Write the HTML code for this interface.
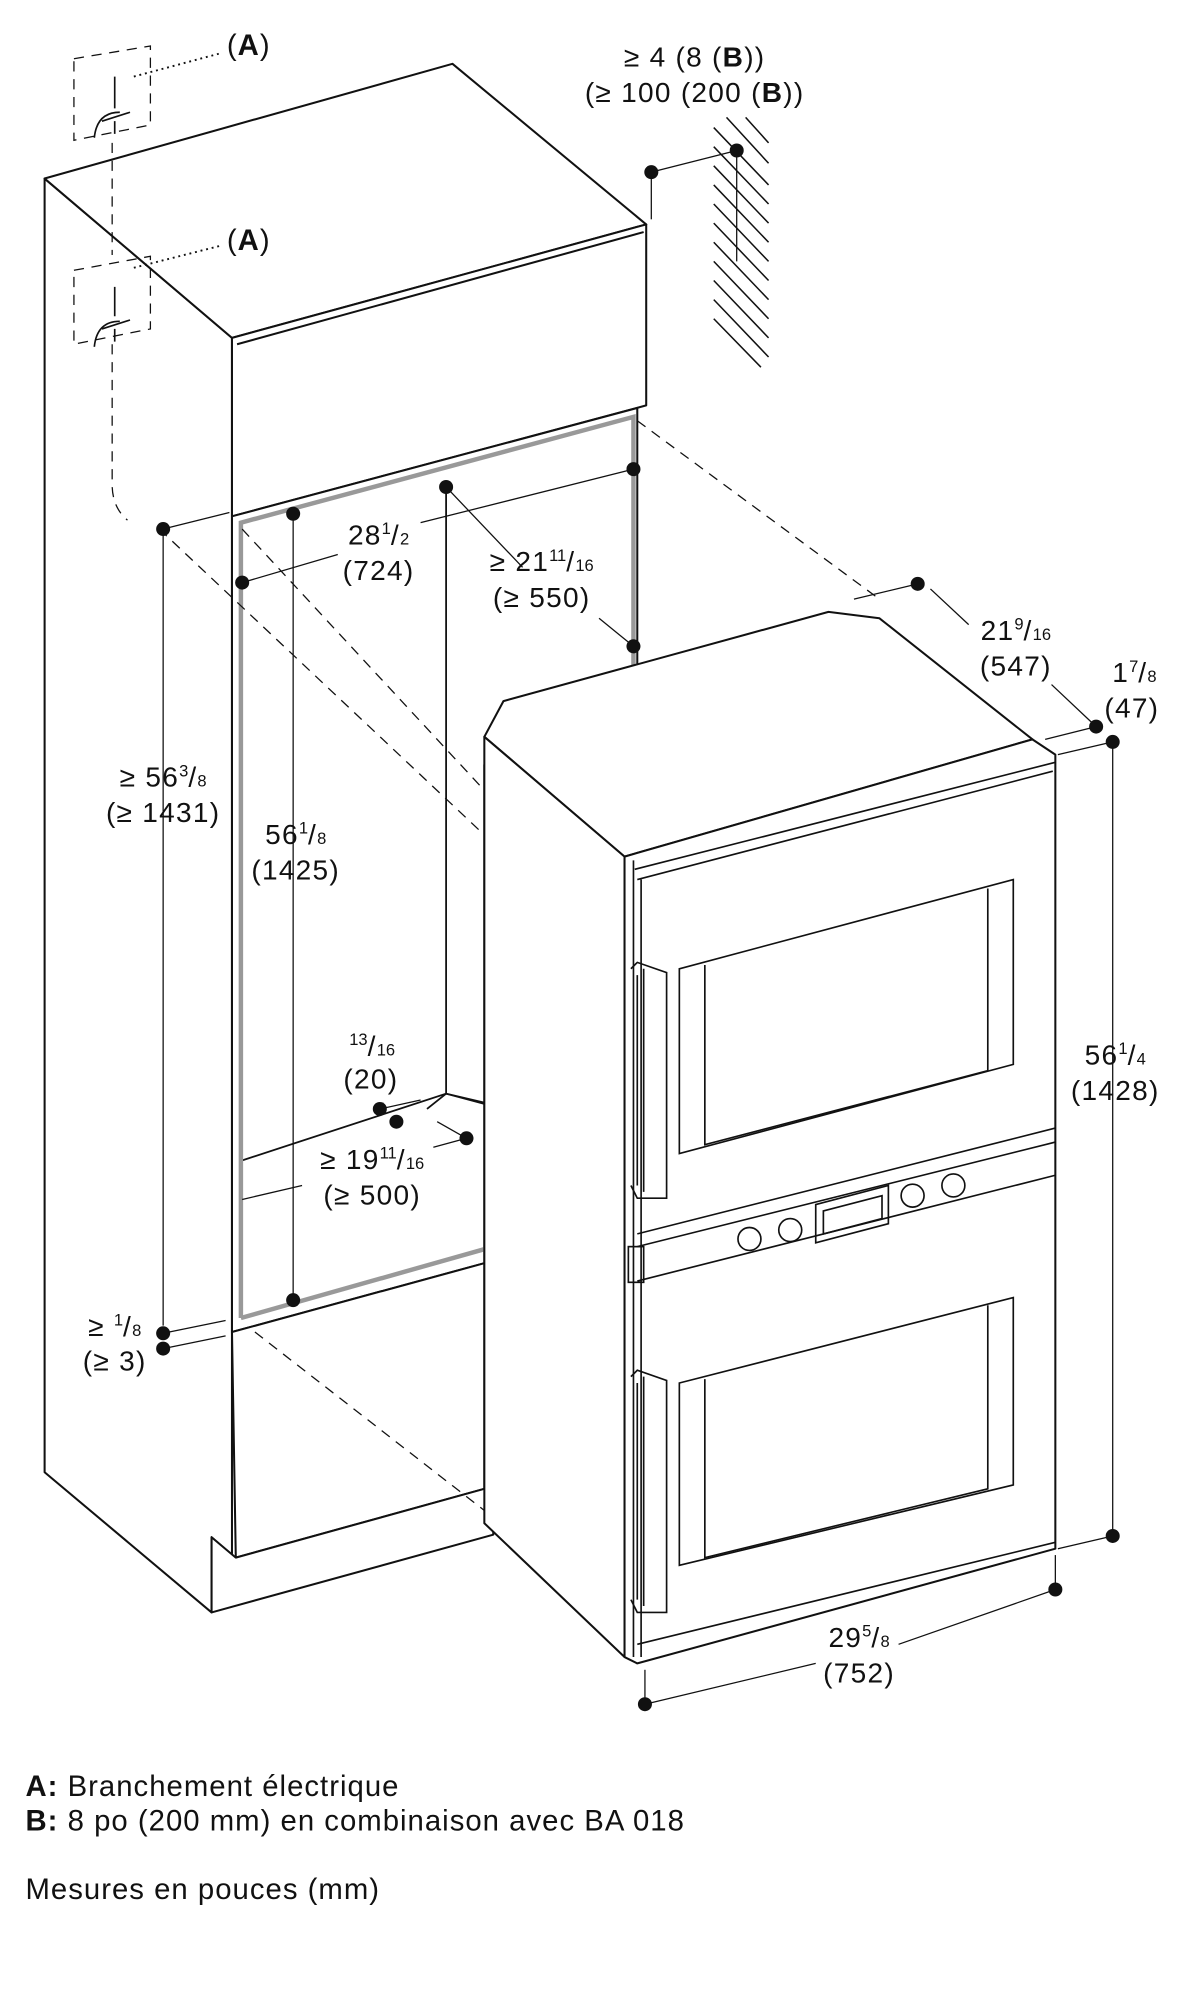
<!DOCTYPE html>
<html><head><meta charset="utf-8"><style>
html,body{margin:0;padding:0;background:#fff}
svg{display:block}
text{font-family:"Liberation Sans",sans-serif;fill:#111}
.l{font-size:22px;text-anchor:middle;letter-spacing:1px}
.s{font-size:13px;letter-spacing:0}
.g{font-size:23px;letter-spacing:0.8px}
</style></head><body>
<svg width="1193" height="2000" viewBox="0 0 936 1569" xmlns="http://www.w3.org/2000/svg">
<g fill="#fff" stroke="#111" stroke-width="1.6" stroke-linejoin="round">
<polygon points="35,140 182,265 182,1220 166,1206 166,1265 35,1155"/>
<polygon points="35,140 355,50 507,176 182,265"/>
<polygon points="182,265 507,176 507,318 182,405"/>
<line x1="186" y1="270" x2="505" y2="182"/>
<polygon points="182,405 500,320 500,560 380,600 380,991 182,1045"/>
<polygon points="182,1045 380,991 380,1168 185,1222"/>
<polygon points="166,1265 387,1204 387,1170 380,1168 185,1222 166,1206" />
</g>
<g stroke="#111" stroke-width="1.4" fill="none">
<line x1="350" y1="378" x2="350" y2="858"/>
<polyline points="188,911 350,858 380,865"/>
<polyline points="335,870 350,858 380,866"/>
</g>
<polyline points="189,1034 189,410 497,327 497,540" fill="none" stroke="#999" stroke-width="3.5"/>
<line x1="189" y1="1034" x2="380" y2="980" stroke="#999" stroke-width="3.5"/>
<g stroke="#111" stroke-width="1" fill="none" stroke-dasharray="8,6">
<polygon points="58,46 118,36 118,98 58,110"/>
<polygon points="58,212 118,201 118,258 58,270"/>
<line x1="125" y1="415" x2="380" y2="655"/>
<line x1="190" y1="415" x2="380" y2="620"/>
<line x1="500" y1="330" x2="690" y2="470"/>
<line x1="200" y1="1045" x2="380" y2="1185"/>
</g>
<line x1="88" y1="112" x2="88" y2="200" stroke="#111" stroke-width="1" stroke-dasharray="8,6"/>
<path d="M88,270 V380 Q88,398 100,408" stroke="#111" stroke-width="1" stroke-dasharray="8,6" fill="none"/>
<g stroke="#111" stroke-width="1.3" fill="none">
<path d="M90,60 V85 M80,95 L102,88 M74,108 Q76,88 94,88 M90,95 V105"/>
<path d="M90,225 V248 M80,258 L102,251 M74,272 Q76,252 94,252 M90,258 V268"/>
</g>
<g stroke="#111" stroke-width="1.5" stroke-dasharray="1.5,3" fill="none">
<line x1="105" y1="60" x2="172" y2="42"/>
<line x1="105" y1="210" x2="172" y2="193"/>
</g>
<text x="178" y="43" class="g">(<tspan font-weight="bold">A</tspan>)</text>
<text x="178" y="196" class="g">(<tspan font-weight="bold">A</tspan>)</text>
<g stroke="#111" stroke-width="1.2">
<line x1="560" y1="100" x2="603" y2="145"/><line x1="560" y1="115" x2="603" y2="160"/>
<line x1="560" y1="130" x2="603" y2="175"/><line x1="560" y1="145" x2="603" y2="190"/>
<line x1="560" y1="160" x2="603" y2="205"/><line x1="560" y1="175" x2="603" y2="220"/>
<line x1="560" y1="190" x2="603" y2="235"/><line x1="560" y1="205" x2="603" y2="250"/>
<line x1="560" y1="220" x2="603" y2="265"/><line x1="560" y1="235" x2="603" y2="280"/>
<line x1="570" y1="92" x2="603" y2="128"/><line x1="585" y1="92" x2="603" y2="112"/>
<line x1="560" y1="250" x2="597" y2="288"/>
</g>
<line x1="578" y1="120" x2="578" y2="205" stroke="#111" stroke-width="1"/>
<g fill="#fff" stroke="#111" stroke-width="1.6" stroke-linejoin="round">
<polygon points="380,578 395,550 650,480 690,485 810,580 490,672"/>
<polygon points="380,578 490,672 490,1300 380,1195"/>
<polygon points="490,672 810,580 828,592 828,1215 500,1305 490,1300"/>
</g>
<g stroke="#111" stroke-width="1.3" fill="none">
<line x1="498" y1="682" x2="828" y2="598"/>
<line x1="500" y1="690" x2="826" y2="605"/>
<line x1="497" y1="675" x2="497" y2="1300"/>
<line x1="503" y1="690" x2="503" y2="1300"/>
<polygon points="533,760 795,690 795,835 533,905"/>
<polyline points="553,757 553,898 775,840 775,697"/>
<line x1="500" y1="968" x2="828" y2="885"/>
<line x1="500" y1="978" x2="828" y2="896"/>
<line x1="500" y1="1005" x2="828" y2="922"/>
<polygon points="533,1085 795,1018 795,1165 533,1228"/>
<polyline points="553,1082 553,1222 775,1168 775,1024"/>
<line x1="500" y1="1290" x2="828" y2="1210"/>
<path d="M495,760 L500,755 L523,763 L523,940 L500,940 L495,930 M500,765 V930 M505,760 V935"/>
<path d="M495,1080 L500,1075 L523,1083 L523,1265 L500,1265 L495,1255 M500,1085 V1255 M505,1080 V1260"/>
<rect x="493" y="978" width="12" height="28"/>
<polygon points="640,945 697,930 697,960 640,975"/>
<polygon points="646,950 692,938 692,956 646,968"/>
<circle cx="588" cy="972" r="9"/><circle cx="620" cy="965" r="9"/>
<circle cx="716" cy="938" r="9"/><circle cx="748" cy="930" r="9"/>
</g>
<g stroke="#111" stroke-width="1" fill="none">
<line x1="511" y1="135" x2="578" y2="118"/><line x1="511" y1="135" x2="511" y2="172"/>
<line x1="128" y1="415" x2="128" y2="1040"/><line x1="128" y1="415" x2="180" y2="402"/>
<line x1="230" y1="403" x2="230" y2="1020"/>
<line x1="190" y1="457" x2="265" y2="435"/><line x1="330" y1="410" x2="497" y2="368"/>
<line x1="350" y1="382" x2="410" y2="445"/><line x1="470" y1="485" x2="497" y2="507"/>
<line x1="670" y1="470" x2="720" y2="458"/><line x1="730" y1="462" x2="760" y2="490"/>
<line x1="825" y1="537" x2="860" y2="570"/><line x1="820" y1="580" x2="860" y2="570"/>
<line x1="830" y1="592" x2="873" y2="582"/><line x1="873" y1="582" x2="873" y2="1205"/>
<line x1="830" y1="1215" x2="873" y2="1205"/>
<line x1="828" y1="1220" x2="828" y2="1247"/>
<line x1="506" y1="1310" x2="506" y2="1337"/>
<line x1="506" y1="1337" x2="640" y2="1305"/><line x1="705" y1="1290" x2="828" y2="1247"/>
<line x1="298" y1="870" x2="330" y2="863"/><line x1="343" y1="880" x2="366" y2="893"/>
<line x1="340" y1="900" x2="366" y2="893"/>
<line x1="190" y1="941" x2="237" y2="930"/>
<line x1="128" y1="1046" x2="177" y2="1036"/><line x1="128" y1="1058" x2="177" y2="1048"/>
</g>
<g fill="#111">
<circle cx="511" cy="135" r="5.5"/><circle cx="578" cy="118" r="5.5"/>
<circle cx="128" cy="415" r="5.5"/><circle cx="230" cy="403" r="5.5"/>
<circle cx="190" cy="457" r="5.5"/><circle cx="350" cy="382" r="5.5"/>
<circle cx="497" cy="368" r="5.5"/><circle cx="497" cy="507" r="5.5"/>
<circle cx="720" cy="458" r="5.5"/><circle cx="860" cy="570" r="5.5"/>
<circle cx="873" cy="582" r="5.5"/><circle cx="873" cy="1205" r="5.5"/>
<circle cx="828" cy="1247" r="5.5"/><circle cx="506" cy="1337" r="5.5"/>
<circle cx="298" cy="870" r="5.5"/><circle cx="311" cy="880" r="5.5"/>
<circle cx="366" cy="893" r="5.5"/><circle cx="230" cy="1020" r="5.5"/>
<circle cx="128" cy="1046" r="5.5"/><circle cx="128" cy="1058" r="5.5"/>
</g>
<text class="l" x="545" y="52">≥ 4 (8 (<tspan font-weight="bold">B</tspan>))</text>
<text class="l" x="545" y="80">(≥ 100 (200 (<tspan font-weight="bold">B</tspan>))</text>
<text class="l" x="297" y="427">28<tspan class="s" dy="-8">1</tspan><tspan dy="8">/</tspan><tspan class="s">2</tspan></text>
<text class="l" x="297" y="455">(724)</text>
<text class="l" x="425" y="448">≥ 21<tspan class="s" dy="-8">11</tspan><tspan dy="8">/</tspan><tspan class="s">16</tspan></text>
<text class="l" x="425" y="476">(≥ 550)</text>
<text class="l" x="797" y="502">21<tspan class="s" dy="-8">9</tspan><tspan dy="8">/</tspan><tspan class="s">16</tspan></text>
<text class="l" x="797" y="530">(547)</text>
<text class="l" x="890" y="535">1<tspan class="s" dy="-8">7</tspan><tspan dy="8">/</tspan><tspan class="s">8</tspan></text>
<text class="l" x="888" y="563">(47)</text>
<text class="l" x="128" y="617">≥ 56<tspan class="s" dy="-8">3</tspan><tspan dy="8">/</tspan><tspan class="s">8</tspan></text>
<text class="l" x="128" y="645">(≥ 1431)</text>
<text class="l" x="232" y="662">56<tspan class="s" dy="-8">1</tspan><tspan dy="8">/</tspan><tspan class="s">8</tspan></text>
<text class="l" x="232" y="690">(1425)</text>
<text class="l" x="875" y="835">56<tspan class="s" dy="-8">1</tspan><tspan dy="8">/</tspan><tspan class="s">4</tspan></text>
<text class="l" x="875" y="863">(1428)</text>
<text class="l" x="292" y="828"><tspan class="s" dy="-8">13</tspan><tspan dy="8">/</tspan><tspan class="s">16</tspan></text>
<text class="l" x="291" y="854">(20)</text>
<text class="l" x="292" y="917">≥ 19<tspan class="s" dy="-8">11</tspan><tspan dy="8">/</tspan><tspan class="s">16</tspan></text>
<text class="l" x="292" y="945">(≥ 500)</text>
<text class="l" x="90" y="1048">≥ <tspan class="s" dy="-8">1</tspan><tspan dy="8">/</tspan><tspan class="s">8</tspan></text>
<text class="l" x="90" y="1075">(≥ 3)</text>
<text class="l" x="674" y="1292">29<tspan class="s" dy="-8">5</tspan><tspan dy="8">/</tspan><tspan class="s">8</tspan></text>
<text class="l" x="674" y="1320">(752)</text>
<text x="20" y="1409" class="g"><tspan font-weight="bold">A:</tspan> Branchement électrique</text>
<text x="20" y="1436" class="g"><tspan font-weight="bold">B:</tspan> 8 po (200 mm) en combinaison avec BA 018</text>
<text x="20" y="1490" class="g">Mesures en pouces (mm)</text>
</svg>
</body></html>
